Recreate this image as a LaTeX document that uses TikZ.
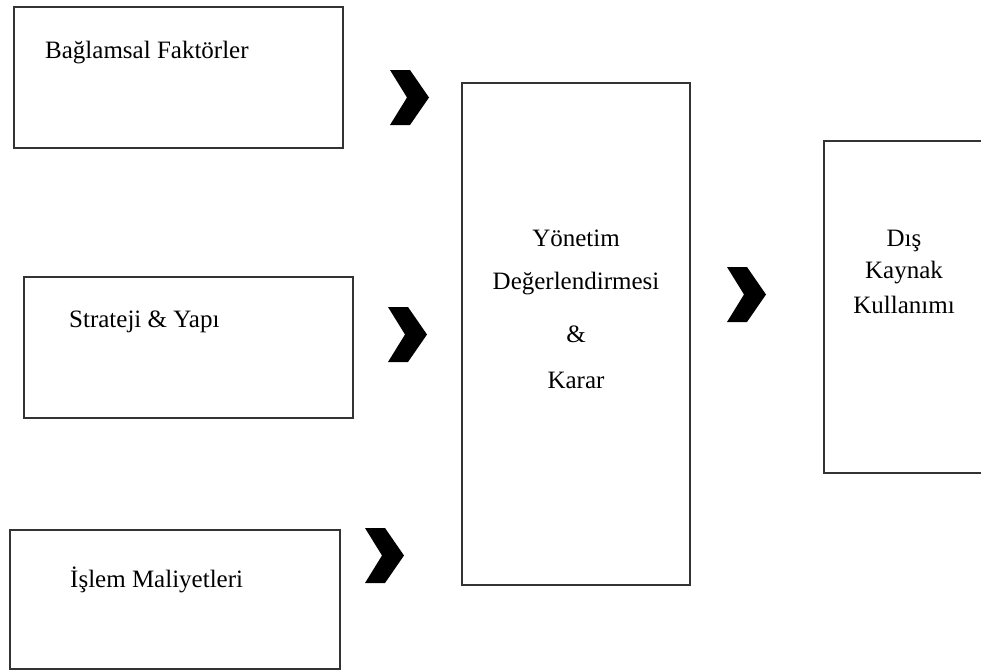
\documentclass[tikz,border=0pt]{standalone}
\usepackage{fontspec}
\setmainfont{Liberation Serif}
\begin{document}
\begin{tikzpicture}[x=1pt,y=-1pt,
  box/.style={draw=black!80, line width=2pt, rectangle, inner sep=0pt, anchor=north west},
  lbl/.style={font=\fontsize{25}{30}\selectfont, text=black, inner sep=0pt},
  chevron/.pic={\fill[black] (0,0) -- (20,0) -- (39,27.5) -- (20,55) -- (0,55) -- (17,27.5) -- cycle;}
]
\useasboundingbox (0,0) rectangle (981,670);
\fill[white] (0,0) rectangle (981,670);
\begin{scope}
\clip (0,0) rectangle (981,670);
% boxes
\node[box, minimum width=329pt, minimum height=141pt] (b1) at (13,6) {};
\node[box, minimum width=329pt, minimum height=141pt] (b2) at (23,276) {};
\node[box, minimum width=330pt, minimum height=139pt] (b3) at (9,529) {};
\node[box, minimum width=228pt, minimum height=502pt] (mid) at (461,82) {};
\node[box, minimum width=200pt, minimum height=332pt] (out) at (823,140) {};
\end{scope}
% texts
\node[lbl, anchor=west] (t1) at (45,53) {Bağlamsal Faktörler};
\node[lbl, anchor=west] (t2) at (69,322) {Strateji \& Yapı};
\node[lbl, anchor=west] (t3) at (70,580) {İşlem Maliyetleri};
\node[lbl] (t4) at (576,238) {Yönetim};
\node[lbl] (t5) at (576,284) {Değerlendirmesi};
\node[lbl] (t6) at (576,334) {\&};
\node[lbl] (t7) at (576,380) {Karar};
\node[lbl] (t8) at (904,241) {Dış};
\node[lbl] (t9) at (904,273) {Kaynak};
\node[lbl] (t10) at (904,305) {Kullanımı};
% chevrons
\pic at (390,70) {chevron};
\pic at (388,307) {chevron};
\pic at (365,528) {chevron};
\pic at (727,267) {chevron};
\end{tikzpicture}
\end{document}
